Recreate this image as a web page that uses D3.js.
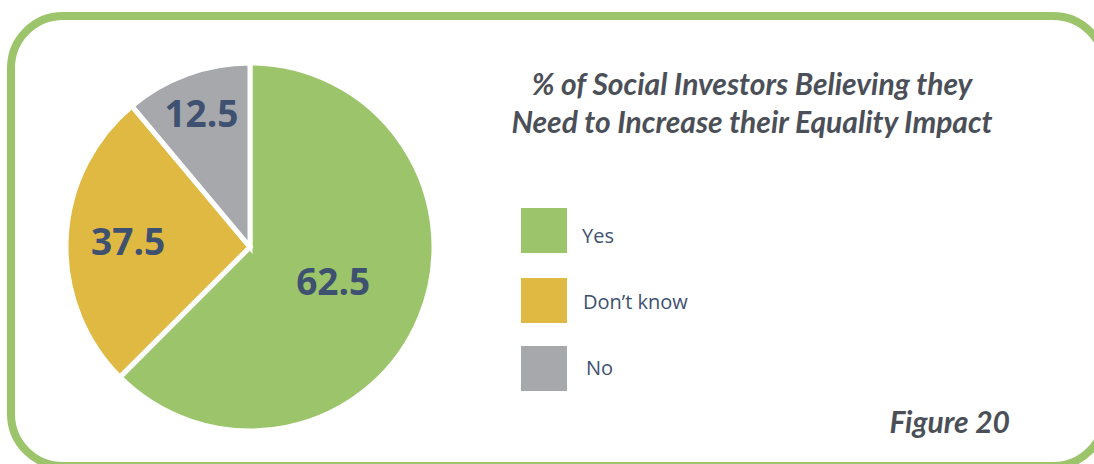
<!DOCTYPE html>
<html>
<head>
<meta charset="utf-8">
<script src="https://cdn.jsdelivr.net/npm/d3@7"></script>
<style>
  html, body { margin: 0; padding: 0; background: #ffffff; }
  svg { display: block; }
</style>
</head>
<body>
<svg id="chart" width="1094" height="464"></svg>
<script>
// ---- data ----
const categories = ["Yes", "Don\u2019t know", "No"];
const sliceValues = [62.5, 26.4, 11.1];          // slice sizes as drawn
const sliceLabels = ["62.5", "37.5", "12.5"];     // numbers printed on slices
const colors = ["#9cc46b", "#dfb942", "#a7a8ac"];
const titleLines = ["% of Social Investors Believing they", "Need to Increase their Equality Impact"];
const figureLabel = "Figure 20";

// ---- drawing ----
const svg = d3.select("#chart");

// frame
svg.append("rect")
  .attr("x", 11).attr("y", 16)
  .attr("width", 1094).attr("height", 450)
  .attr("rx", 52).attr("ry", 52)
  .attr("fill", "none")
  .attr("stroke", "#9cc46b")
  .attr("stroke-width", 8);

const cx = 250, cy = 247, R = 184;
const g = svg.append("g").attr("transform", `translate(${cx},${cy})`);

const pie = d3.pie().sort(null).value(d => d.v).startAngle(0).endAngle(2 * Math.PI);
const data = categories.map((c, i) => ({ c, v: sliceValues[i], label: sliceLabels[i], color: colors[i] }));
const arcs = pie(data);

const arc = d3.arc().innerRadius(0).outerRadius(R);
g.selectAll("path.slice")
  .data(arcs)
  .enter().append("path")
  .attr("class", "slice")
  .attr("d", arc)
  .attr("fill", d => d.data.color)
  .attr("stroke", "#ffffff")
  .attr("stroke-width", 5)
  .attr("stroke-linejoin", "miter");

const labelRadius = [90, 122, 142];
g.selectAll("text.val")
  .data(arcs)
  .enter().append("text")
  .attr("class", "val")
  .attr("transform", (d, i) => {
    const la = d3.arc().innerRadius(labelRadius[i]).outerRadius(labelRadius[i]);
    const [x, y] = la.centroid(d);
    return `translate(${x},${y})`;
  })
  .attr("text-anchor", "middle")
  .attr("dy", "0.36em")
  .attr("font-family", "'Open Sans', sans-serif")
  .attr("font-weight", 700)
  .attr("font-size", 37)
  .attr("fill", "#3e5171")
  .text(d => d.data.label);

// title
svg.append("g").selectAll("text")
  .data(titleLines)
  .enter().append("text")
  .attr("x", 752)
  .attr("y", (d, i) => 95 + i * 38)
  .attr("text-anchor", "middle")
  .attr("font-family", "Lato, sans-serif")
  .attr("font-style", "italic")
  .attr("font-weight", 700)
  .attr("font-size", 30)
  .attr("fill", "#4b4f58")
  .text(d => d);

// legend
const lg = svg.append("g").attr("transform", "translate(521,208)");
const rowY = [0, 70, 138];
const items = lg.selectAll("g").data(categories).enter().append("g")
  .attr("transform", (d, i) => `translate(0,${rowY[i]})`);
items.append("rect")
  .attr("width", 46).attr("height", 45)
  .attr("fill", (d, i) => colors[i]);
items.append("text")
  .attr("x", (d, i) => [61, 62, 65][i])
  .attr("y", (d, i) => [35, 31, 29][i])
  .attr("font-family", "'Open Sans', sans-serif")
  .attr("font-size", 20)
  .attr("fill", "#3e5171")
  .text(d => d);

// figure label
svg.append("text")
  .attr("x", 1010).attr("y", 433)
  .attr("text-anchor", "end")
  .attr("font-family", "Lato, sans-serif")
  .attr("font-style", "italic")
  .attr("font-weight", 700)
  .attr("font-size", 30)
  .attr("fill", "#4b4f58")
  .text(figureLabel);
</script>
</body>
</html>
